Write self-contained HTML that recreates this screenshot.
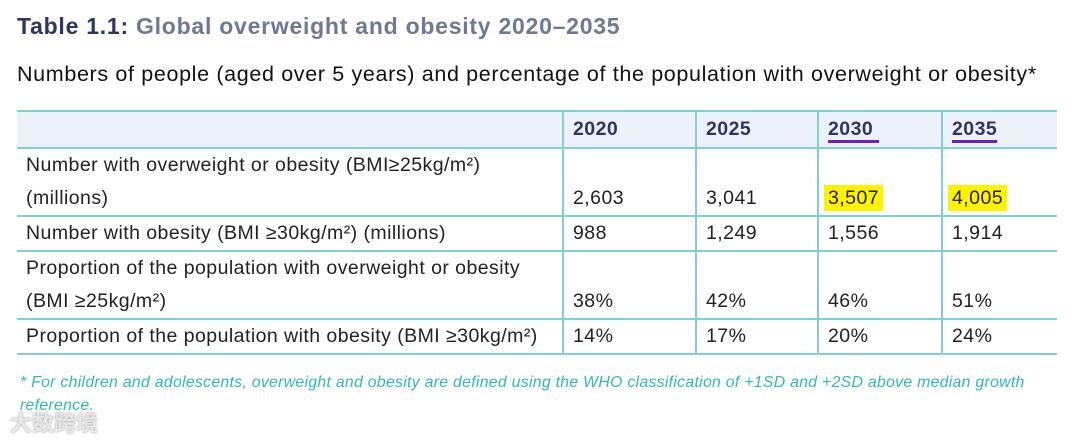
<!DOCTYPE html>
<html><head><meta charset="utf-8"><style>
body{margin:0;width:1080px;height:440px;background:#fff;font-family:"Liberation Sans",sans-serif;position:relative;overflow:hidden}
.a{position:absolute;white-space:nowrap}
.t{font-size:23px;font-weight:bold;left:17px;top:13px;color:#2d3561;letter-spacing:0.75px}
.t span{color:#6e7898}
.s{font-size:21.5px;left:17px;top:62px;color:#111;letter-spacing:0.65px}
table{position:absolute;left:17px;top:110px;border-collapse:collapse;font-size:19.5px;color:#222;letter-spacing:0.45px}
td{border:2px solid #7fd0d6;padding:0 9px;vertical-align:bottom;line-height:33px;height:33px}
tr td:first-child{border-left:none}tr td:last-child{border-right:none}
tr.h td{background:#edf2fa;font-weight:bold;color:#2e3560;height:35px;vertical-align:middle}
.u{text-decoration:underline;text-decoration-color:#6a1fc7;text-decoration-thickness:3px;text-underline-offset:5px}
.hl{background:#fff200;padding:2px 4px;margin-left:-4px}
.f{font-size:15.8px;font-style:italic;color:#2fb6c3;left:20px;letter-spacing:0.3px}
.w{font-size:22px;color:#e8e8e8;left:10px;top:406px;font-family:"Liberation Sans","Noto Sans CJK SC",sans-serif;font-weight:bold;text-shadow:0 0 2px #999}
</style></head><body>
<div class="a t">Table 1.1: <span>Global overweight and obesity 2020–2035</span></div>
<div class="a s">Numbers of people (aged over 5 years) and percentage of the population with overweight or obesity*</div>
<table>
<tr class="h"><td style="width:527px"></td><td style="width:113px">2020</td><td style="width:102px">2025</td><td style="width:104px"><span class="u">2030&nbsp;</span></td><td style="width:96px"><span class="u">2035</span></td></tr>
<tr><td style="height:66px">Number with overweight or obesity (BMI≥25kg/m²)<br>(millions)</td><td>2,603</td><td>3,041</td><td><span class="hl">3,507</span></td><td><span class="hl">4,005</span></td></tr>
<tr><td>Number with obesity (BMI ≥30kg/m²) (millions)</td><td>988</td><td>1,249</td><td>1,556</td><td>1,914</td></tr>
<tr><td style="height:66px">Proportion of the population with overweight or obesity<br>(BMI ≥25kg/m²)</td><td>38%</td><td>42%</td><td>46%</td><td>51%</td></tr>
<tr><td>Proportion of the population with obesity (BMI ≥30kg/m²)</td><td>14%</td><td>17%</td><td>20%</td><td>24%</td></tr>
</table>
<div class="a f" style="top:374px">* For children and adolescents, overweight and obesity are defined using the WHO classification of +1SD and +2SD above median growth</div>
<div class="a f" style="top:397px">reference.</div>
<div class="a w">大数跨境</div>
</body></html>
